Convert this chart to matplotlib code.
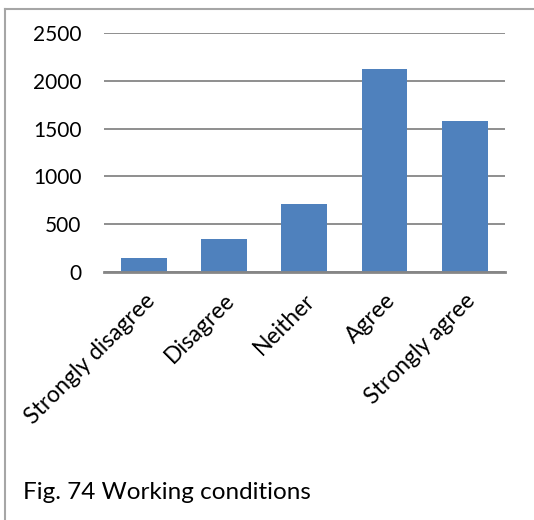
import numpy as np
import matplotlib.pyplot as plt
from matplotlib.lines import Line2D

plt.rcParams['font.family'] = ['Lato', 'DejaVu Sans']

categories = ["Strongly disagree", "Disagree", "Neither", "Agree", "Strongly agree"]
counts = [145, 343, 710, 2122, 1580]
yticks = [0, 500, 1000, 1500, 2000, 2500]
caption = "Fig. 74 Working conditions"

W, H = 534, 520
fig = plt.figure(figsize=(W / 100, H / 100), dpi=100)
ax = fig.add_axes([103.7 / W, 1 - 271.7 / H, (505 - 103.7) / W, (271.7 - 33.3) / H])

x = np.arange(len(categories))
ax.bar(x, counts, width=0.57, color="#4F81BD", zorder=3)

ax.set_xlim(-0.5, len(categories) - 0.5)
ax.set_ylim(0, 2500)
ax.set_yticks(yticks)
ax.set_yticklabels([str(t) for t in yticks], fontsize=15)
ax.yaxis.grid(True, color="#868686", linewidth=1.3, zorder=0)
ax.tick_params(axis="y", length=0, pad=16)
ax.tick_params(axis="x", length=0, pad=13)

ax.set_xticks(x)
ax.set_xticklabels(categories, rotation=45, ha="right", rotation_mode="anchor", fontsize=16.5)

for s in ["top", "right", "left"]:
    ax.spines[s].set_visible(False)
ax.spines["bottom"].set_color("#868686")
ax.spines["bottom"].set_linewidth(2)
ax.spines["bottom"].set_zorder(4)

# outer frame (only top and left visible in the crop)
fig.add_artist(Line2D([5 / W, 1], [1 - 9 / H, 1 - 9 / H], color="#A6A6A6", linewidth=1.5))
fig.add_artist(Line2D([5 / W, 5 / W], [0, 1 - 9 / H], color="#A6A6A6", linewidth=1.5))

fig.text(23 / W, 1 - 499 / H, caption, fontsize=17.5, ha="left", va="baseline")

fig.savefig("out.png", dpi=100)
